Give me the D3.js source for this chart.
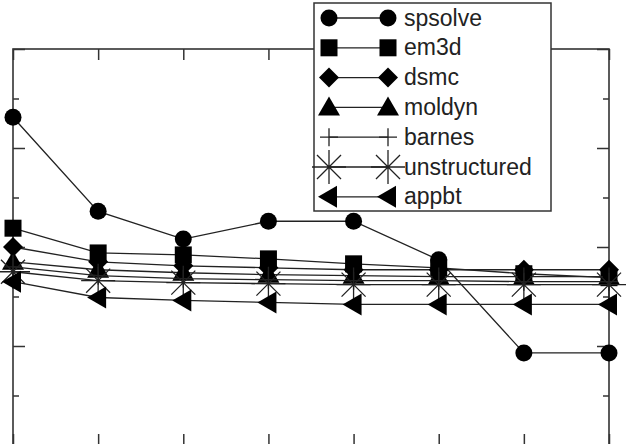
<!DOCTYPE html>
<html lang="en">
<head>
<meta charset="utf-8">
<title>Benchmarks</title>
<script src="https://d3js.org/d3.v7.min.js"></script>
<style>
  body { margin: 0; background: #fff; }
  svg { display: block; overflow: hidden; }
  .legend text { font-family: "Liberation Sans", Arial, sans-serif; font-size: 23px; fill: #222; }
</style>
</head>
<body>
<svg id="chart" width="630" height="444"></svg>
<script>
// x positions (8 runs, evenly spaced), y in plot units 0..4
var steps = [0, 1, 2, 3, 4, 5, 6, 7];
var names = ["spsolve", "em3d", "dsmc", "moldyn", "barnes", "unstructured", "appbt"];
var spsolve      = [3.31, 2.36, 2.08, 2.26, 2.26, 1.87, 0.93, 0.93];
var em3d         = [2.19, 1.94, 1.92, 1.88, 1.83, 1.79, 1.73, 1.69];
var dsmc         = [2.00, 1.85, 1.81, 1.79, 1.77, 1.77, 1.77, 1.77];
var moldyn       = [1.85, 1.77, 1.74, 1.72, 1.71, 1.70, 1.70, 1.70];
var barnes       = [1.80, 1.71, 1.68, 1.67, 1.66, 1.66, 1.65, 1.65];
var unstructured = [1.75, 1.66, 1.64, 1.63, 1.62, 1.62, 1.62, 1.62];
var appbt        = [1.65, 1.49, 1.46, 1.44, 1.42, 1.42, 1.42, 1.42];
var yMajor = [0, 1, 2, 3, 4];
var yMinor = [0.5, 1.5, 2.5, 3.5];

var seriesVals = [spsolve, em3d, dsmc, moldyn, barnes, unstructured, appbt];
var shapes = ["circle", "square", "diamond", "triangle", "plus", "star", "left"];

var svg = d3.select("#chart");
var x = d3.scaleLinear().domain([0, 7]).range([13, 609]);
var y = d3.scaleLinear().domain([0, 4]).range([445, 49]);

var axisCol = "#333";

// frame
svg.append("rect")
  .attr("x", x(0)).attr("y", y(4))
  .attr("width", x(7) - x(0)).attr("height", y(0) - y(4))
  .attr("fill", "none").attr("stroke", axisCol).attr("stroke-width", 1.6);

function tickAxis(ax, tr) {
  var g = svg.append("g").attr("transform", tr).call(ax);
  g.select(".domain").remove();
  g.selectAll(".tick line").attr("stroke", axisCol).attr("stroke-width", 1.5);
  g.selectAll(".tick text").remove();
  return g;
}
tickAxis(d3.axisTop(x).tickValues(steps).tickSize(-11), "translate(0," + y(4) + ")");
tickAxis(d3.axisBottom(x).tickValues(steps).tickSize(-11), "translate(0," + y(0) + ")");
tickAxis(d3.axisLeft(y).tickValues(yMajor).tickSize(-12), "translate(" + x(0) + ",0)");
tickAxis(d3.axisRight(y).tickValues(yMajor).tickSize(-12), "translate(" + x(7) + ",0)");
tickAxis(d3.axisLeft(y).tickValues(yMinor).tickSize(-6), "translate(" + x(0) + ",0)");
tickAxis(d3.axisRight(y).tickValues(yMinor).tickSize(-6), "translate(" + x(7) + ",0)");

// marker drawing
function marker(g, shape, cx, cy) {
  var s;
  if (shape === "circle") {
    g.append("circle").attr("cx", cx).attr("cy", cy).attr("r", 8.5).attr("fill", "#000");
  } else if (shape === "square") {
    g.append("rect").attr("x", cx - 8.5).attr("y", cy - 8.5).attr("width", 17).attr("height", 17).attr("fill", "#000");
  } else if (shape === "diamond") {
    s = 10;
    g.append("path").attr("d", "M" + cx + "," + (cy - s) + "L" + (cx + s) + "," + cy + "L" + cx + "," + (cy + s) + "L" + (cx - s) + "," + cy + "Z").attr("fill", "#000");
  } else if (shape === "triangle") {
    g.append("path").attr("d", "M" + cx + "," + (cy - 11) + "L" + (cx + 11) + "," + (cy + 8) + "L" + (cx - 11) + "," + (cy + 8) + "Z").attr("fill", "#000");
  } else if (shape === "left") {
    g.append("path").attr("d", "M" + (cx - 11) + "," + cy + "L" + (cx + 8) + "," + (cy - 11) + "L" + (cx + 8) + "," + (cy + 11) + "Z").attr("fill", "#000");
  } else if (shape === "plus") {
    s = 9;
    g.append("path").attr("d", "M" + (cx - s) + "," + cy + "H" + (cx + s) + "M" + cx + "," + (cy - s) + "V" + (cy + s))
      .attr("stroke", "#222").attr("stroke-width", 1.3).attr("fill", "none");
  } else if (shape === "star") {
    s = 17;
    var d = "";
    for (var k = 0; k < 4; k++) {
      var a = k * Math.PI / 4;
      d += "M" + (cx - s * Math.cos(a)) + "," + (cy - s * Math.sin(a)) + "L" + (cx + s * Math.cos(a)) + "," + (cy + s * Math.sin(a));
    }
    g.append("path").attr("d", d).attr("stroke", "#222").attr("stroke-width", 1.3).attr("fill", "none");
  }
}

var line = d3.line().x(function(d, i) { return x(steps[i]); }).y(function(d) { return y(d); });

seriesVals.forEach(function(vals, si) {
  var g = svg.append("g");
  g.append("path").datum(vals).attr("d", line)
    .attr("fill", "none").attr("stroke", "#222").attr("stroke-width", 1.3);
  vals.forEach(function(v, i) { marker(g, shapes[si], x(steps[i]), y(v)); });
});

// legend
var lg = svg.append("g").attr("class", "legend");
lg.append("rect").attr("x", 314).attr("y", 3).attr("width", 237).attr("height", 208)
  .attr("fill", "#fff").attr("stroke", axisCol).attr("stroke-width", 1.5);
names.forEach(function(n, i) {
  var cy = 18 + i * 29.8;
  var row = lg.append("g");
  row.append("line").attr("x1", 329).attr("x2", 388).attr("y1", cy).attr("y2", cy)
    .attr("stroke", "#222").attr("stroke-width", 1.3);
  marker(row, shapes[i], 329, cy);
  marker(row, shapes[i], 388, cy);
  row.append("text").attr("x", 404).attr("y", cy + 7.5).text(n);
});
</script>
</body>
</html>
